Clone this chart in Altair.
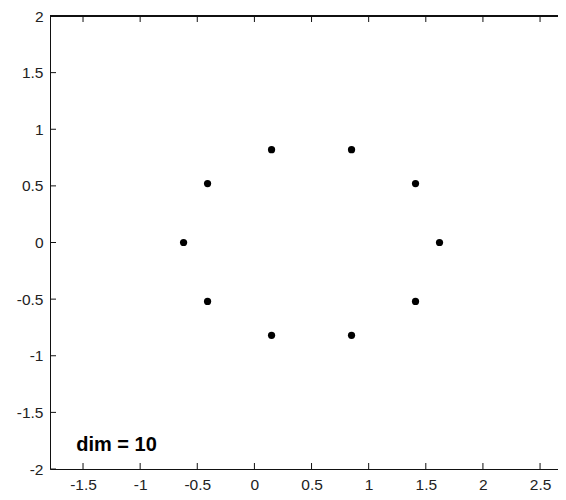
import altair as alt
import pandas as pd

# data
xs = [1.62, 1.41, 0.85, 0.15, -0.41, -0.62, -0.41, 0.15, 0.85, 1.41]
ys = [0.0, 0.52, 0.82, 0.82, 0.52, 0.0, -0.52, -0.82, -0.82, -0.52]
xticks = [-1.5, -1, -0.5, 0, 0.5, 1, 1.5, 2, 2.5]
yticks = [-2, -1.5, -1, -0.5, 0, 0.5, 1, 1.5, 2]
xdomain = [-1.789, 2.657]
ydomain = [-2, 2]
label_text = "dim = 10"
label_x = -1.56
label_y = -1.79

W = 508
H = 453
FONT = "Liberation Sans"

pts = pd.DataFrame({"x": xs, "y": ys})
xt = pd.DataFrame({"v": xticks})
yt = pd.DataFrame({"v": yticks})

xscale = alt.Scale(domain=xdomain, nice=False, zero=False)
yscale = alt.Scale(domain=ydomain, nice=False, zero=False)

xaxis = alt.Axis(values=xticks, title=None, grid=False, tickSize=0, labelFont=FONT,
                 labelFontSize=15.5, labelColor="#222", labelPadding=8,
                 domainColor="#111", labelExpr="toString(datum.value)",
                 labelFlush=False)
yaxis = alt.Axis(values=yticks, title=None, grid=False, tickSize=0, labelFont=FONT,
                 labelFontSize=15.5, labelColor="#222", labelPadding=7,
                 domainColor="#111", labelExpr="toString(datum.value)",
                 labelFlush=False)

points = alt.Chart(pts).mark_circle(color="black", opacity=1, size=52).encode(
    x=alt.X("x:Q", scale=xscale, axis=xaxis),
    y=alt.Y("y:Q", scale=yscale, axis=yaxis),
)

top_line = alt.Chart(pts).mark_rule(color="#111", strokeWidth=1).encode(
    x=alt.value(0), x2=alt.value(W), y=alt.value(0)
)

top_ticks = alt.Chart(xt).mark_rule(color="#111").encode(
    x=alt.X("v:Q", scale=xscale), y=alt.value(0), y2=alt.value(6)
)
bottom_ticks = alt.Chart(xt).mark_rule(color="#111").encode(
    x=alt.X("v:Q", scale=xscale), y=alt.value(H), y2=alt.value(H - 6)
)
left_ticks = alt.Chart(yt).mark_rule(color="#111").encode(
    y=alt.Y("v:Q", scale=yscale), x=alt.value(0), x2=alt.value(6)
)

label = alt.Chart(pd.DataFrame({"t": [label_text]})).mark_text(
    align="left", baseline="middle", font=FONT, fontSize=20, fontWeight="bold",
    color="black"
).encode(
    x=alt.datum(label_x, scale=xscale), y=alt.datum(label_y, scale=yscale), text="t:N"
)

chart = alt.layer(points, top_line, top_ticks, bottom_ticks, left_ticks, label).properties(
    width=W, height=H,
    autosize=alt.AutoSizeParams(type="none"),
    padding={"left": 42, "top": 8, "right": 0, "bottom": 23},
).configure_view(stroke=None).configure(background="white")

chart.save("out.html", embed_options={"renderer": "svg", "actions": False})
